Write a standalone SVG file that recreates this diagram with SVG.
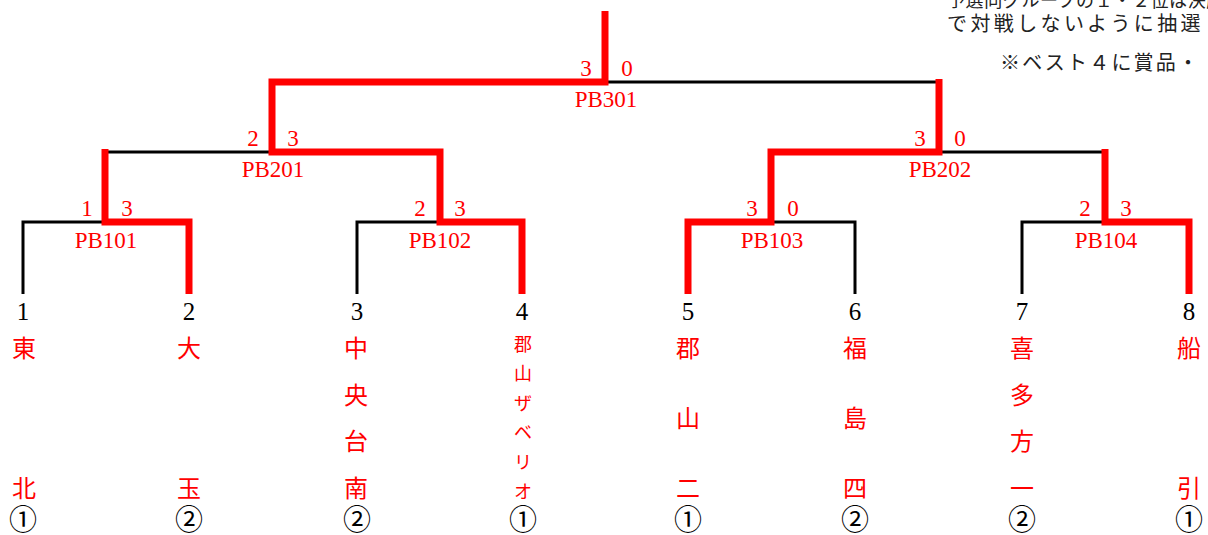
<svg xmlns="http://www.w3.org/2000/svg" width="1208" height="535" viewBox="0 0 1208 535">
<style>
.sc{font-family:"Liberation Serif",serif;font-size:23px;fill:#f00;text-anchor:middle}
.seed{font-family:"Liberation Serif",serif;font-size:25px;fill:#000;text-anchor:middle}
.nm{font-family:"Noto Sans CJK JP",sans-serif;font-size:24px;fill:#f00;text-anchor:middle;dominant-baseline:central}
.nms{font-family:"Noto Sans CJK JP",sans-serif;font-size:18px;fill:#f00;text-anchor:middle;dominant-baseline:central}
.rk{font-family:"Noto Sans CJK JP",sans-serif;font-size:28px;fill:#000;text-anchor:middle;dominant-baseline:central}
.note{font-family:"Noto Sans CJK JP",sans-serif;fill:#222}
.bk{fill:none;stroke:#000;stroke-width:3}
.rd{fill:none;stroke:#f00;stroke-width:7;stroke-linejoin:miter}
</style>
<g id="connectors">
<polyline class="bk" points="23,294 23,222 105,222"/>
<polyline class="bk" points="357,294 357,222 440,222"/>
<polyline class="bk" points="855,294 855,222 771,222"/>
<polyline class="bk" points="1022,294 1022,222 1105,222"/>
<polyline class="bk" points="105,152 272,152"/>
<polyline class="bk" points="939,152 1105,152"/>
<polyline class="bk" points="605,82 939,82"/>
<polyline class="rd" points="189,294 189,222 105,222 105,149"/>
<polyline class="rd" points="522,294 522,222 440,222 440,152 272,152 272,82 605,82 605,11"/>
<polyline class="rd" points="688,294 688,222 771,222 771,152 939,152 939,79"/>
<polyline class="rd" points="1189,294 1189,222 1105,222 1105,149"/>
</g>
<g id="note">
<text class="note" x="947" y="7" font-size="18" letter-spacing="0.6">予選同グループの１・２位は決勝</text>
<text class="note" x="947" y="31" font-size="20" letter-spacing="3.4">で対戦しないように抽選</text>
<text class="note" x="1000" y="70" font-size="20" letter-spacing="2.2">※ベスト４に賞品・</text>
</g>
<g id="PB301"><text class="sc" x="586" y="76">3</text><text class="sc" x="627" y="76">0</text><text class="sc" x="606" y="107">PB301</text></g>
<g id="PB201"><text class="sc" x="253" y="146">2</text><text class="sc" x="293" y="146">3</text><text class="sc" x="273" y="177">PB201</text></g>
<g id="PB202"><text class="sc" x="920" y="146">3</text><text class="sc" x="960" y="146">0</text><text class="sc" x="940" y="177">PB202</text></g>
<g id="PB101"><text class="sc" x="87" y="216">1</text><text class="sc" x="127" y="216">3</text><text class="sc" x="106" y="248">PB101</text></g>
<g id="PB102"><text class="sc" x="420" y="216">2</text><text class="sc" x="460" y="216">3</text><text class="sc" x="440" y="248">PB102</text></g>
<g id="PB103"><text class="sc" x="752" y="216">3</text><text class="sc" x="793" y="216">0</text><text class="sc" x="772" y="248">PB103</text></g>
<g id="PB104"><text class="sc" x="1085" y="216">2</text><text class="sc" x="1126" y="216">3</text><text class="sc" x="1106" y="248">PB104</text></g>
<g id="team1"><text class="seed" x="23" y="320">1</text><text class="nm"><tspan x="24" y="346">東</tspan><tspan x="24" y="486">北</tspan></text><text class="rk" x="23" y="518">①</text></g>
<g id="team2"><text class="seed" x="189" y="320">2</text><text class="nm"><tspan x="189" y="346">大</tspan><tspan x="189" y="486">玉</tspan></text><text class="rk" x="189" y="518">②</text></g>
<g id="team3"><text class="seed" x="357" y="320">3</text><text class="nm"><tspan x="356" y="346">中</tspan><tspan x="356" y="393">央</tspan><tspan x="356" y="439">台</tspan><tspan x="356" y="486">南</tspan></text><text class="rk" x="357" y="518">②</text></g>
<g id="team4"><text class="seed" x="522" y="320">4</text><text class="nms"><tspan x="523" y="343">郡</tspan><tspan x="523" y="372.4">山</tspan><tspan x="523" y="401.8">ザ</tspan><tspan x="523" y="431.2">ベ</tspan><tspan x="523" y="460.6">リ</tspan><tspan x="523" y="490">オ</tspan></text><text class="rk" x="523" y="518">①</text></g>
<g id="team5"><text class="seed" x="688" y="320">5</text><text class="nm"><tspan x="688" y="346">郡</tspan><tspan x="688" y="416">山</tspan><tspan x="688" y="486">二</tspan></text><text class="rk" x="688" y="518">①</text></g>
<g id="team6"><text class="seed" x="855" y="320">6</text><text class="nm"><tspan x="855" y="346">福</tspan><tspan x="855" y="416">島</tspan><tspan x="855" y="486">四</tspan></text><text class="rk" x="855" y="518">②</text></g>
<g id="team7"><text class="seed" x="1022" y="320">7</text><text class="nm"><tspan x="1022" y="346">喜</tspan><tspan x="1022" y="393">多</tspan><tspan x="1022" y="439">方</tspan><tspan x="1022" y="486">一</tspan></text><text class="rk" x="1022" y="518">②</text></g>
<g id="team8"><text class="seed" x="1189" y="320">8</text><text class="nm"><tspan x="1189" y="346">船</tspan><tspan x="1189" y="486">引</tspan></text><text class="rk" x="1189" y="518">①</text></g>
</svg>
